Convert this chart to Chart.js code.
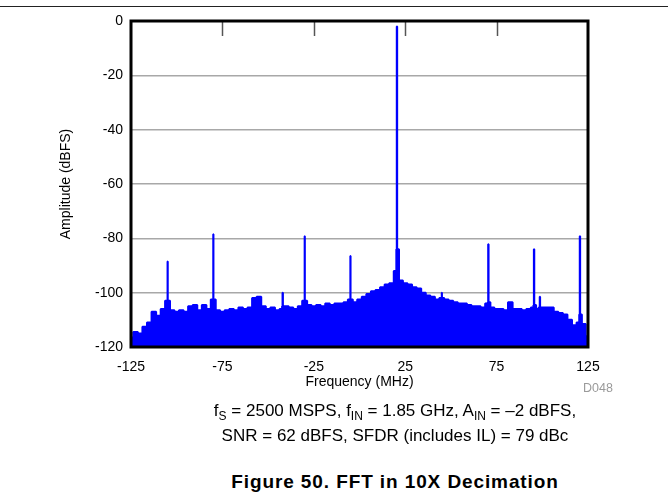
<!DOCTYPE html>
<html>
<head>
<meta charset="utf-8">
<script src="https://cdn.jsdelivr.net/npm/chart.js@4.4.1/dist/chart.umd.min.js"></script>
<style>
  body { margin: 0; width: 668px; height: 498px; background: #fff; position: relative; overflow: hidden;
         font-family: "Liberation Sans", Arial, sans-serif; color: #000; }
  .rule { position: absolute; left: 0; top: 6px; width: 668px; height: 0; border-top: 1.5px solid #222; }
  .wrap { position: absolute; left: 0; top: 0; width: 668px; height: 395px; }
  .code { position: absolute; left: 583px; top: 381px; font-size: 12.5px; color: #9a9a9a; }
  .cond { position: absolute; left: 395px; top: 398px; transform: translateX(-50%); white-space: nowrap;
          font-size: 17px; line-height: 25px; text-align: center; }
  .cond sub { font-size: 12px; vertical-align: -4px; line-height: 0; }
  .fig { position: absolute; left: 395px; top: 471px; transform: translateX(-50%); white-space: nowrap;
         font-size: 19px; letter-spacing: 0.9px; font-weight: bold; }
</style>
</head>
<body>
<div class="rule"></div>
<div class="wrap"><canvas id="fft"></canvas></div>
<div class="code">D048</div>
<div class="cond">f<sub>S</sub> = 2500 MSPS, f<sub>IN</sub> = 1.85 GHz, A<sub>IN</sub> = –2 dBFS,<br>SNR = 62 dBFS, SFDR (includes IL) = 79 dBc</div>
<div class="fig">Figure 50. FFT in 10X Decimation</div>
<script>
// noise floor, every 2.5 MHz
const floorFreqs = [
  -125, -122.5, -120, -117.5, -115, -112.5, -110, -107.5, -105, -102.5,
  -100, -97.5, -95, -92.5, -90, -87.5, -85, -82.5, -80, -77.5,
  -75, -72.5, -70, -67.5, -65, -62.5, -60, -57.5, -55, -52.5,
  -50, -47.5, -45, -42.5, -40, -37.5, -35, -32.5, -30, -27.5,
  -25, -22.5, -20, -17.5, -15, -12.5, -10, -7.5, -5, -2.5,
  0, 2.5, 5, 7.5, 10, 12.5, 15, 17.5, 20, 22.5,
  25, 27.5, 30, 32.5, 35, 37.5, 40, 42.5, 45, 47.5,
  50, 52.5, 55, 57.5, 60, 62.5, 65, 67.5, 70, 72.5,
  75, 77.5, 80, 82.5, 85, 87.5, 90, 92.5, 95, 97.5,
  100, 102.5, 105, 107.5, 110, 112.5, 115, 117.5, 120, 122.5, 125
];
const floorLevels = [
  -116.5, -114.5, -115, -112.5, -111, -107, -108.5, -106, -105, -106.5,
  -107, -106.5, -107, -105, -104.5, -106.5, -104.5, -106, -104, -106.5,
  -107, -106.5, -106, -106.5, -105.5, -106, -105.5, -102, -101.5, -105,
  -106, -105.5, -106.5, -106, -105, -105.5, -106, -105, -104, -104.5,
  -105, -104.5, -105, -104, -104.5, -104, -104, -103.5, -103, -103.5,
  -102.5, -101.5, -100.5, -99.5, -99, -98, -97, -96.5, -92, -95.5,
  -96.5, -97, -98, -98.5, -100, -101, -101.5, -102.5, -102, -102.5,
  -103, -103.5, -104, -104, -104.5, -105, -105, -105.5, -104, -105.5,
  -106, -106, -106.5, -103.5, -106, -106, -106.5, -106, -105.5, -106,
  -105.5, -105.5, -105.5, -107, -107.5, -108, -110, -112, -111, -111.5, -116
];

// spurs: centre frequency, peak level, level at the foot of the spur
const spurFreqs  = [-105, -80, -42, -30, -5, 20.5, 45, 70.5, 95.5, 98.7, 120.6];
const spurLevels = [-88.5, -78.5, -100, -79.2, -86.5, -2, -100, -82.2, -84, -101.5, -79.2];
const spurBase   = [-103, -102.5, -105, -103, -102.5, -84, -102, -103.5, -104.5, -105.5, -108];

const yTicks = [0, -20, -40, -60, -80, -100, -120];
const xTicks = [-125, -75, -25, 25, 75, 125];

const points = floorFreqs.map((f, i) => ({ x: f, y: floorLevels[i] }));
spurFreqs.forEach((f, i) => {
  points.push({ x: f - 0.2, y: spurBase[i] }, { x: f, y: spurLevels[i] }, { x: f + 0.2, y: spurBase[i] });
});
points.sort((a, b) => a.x - b.x);

const frame = {
  id: "frame",
  afterDatasetsDraw(chart) {
    const { ctx, chartArea: a, scales: { x } } = chart;
    ctx.save();
    ctx.strokeStyle = "#555";
    ctx.lineWidth = 1.5;
    xTicks.slice(1, -1).forEach(v => {
      const px = Math.round(x.getPixelForValue(v)) + 0.5;
      ctx.beginPath();
      ctx.moveTo(px, a.top);
      ctx.lineTo(px, a.top + 15);
      ctx.stroke();
    });
    ctx.strokeStyle = "#000";
    ctx.lineWidth = 3;
    ctx.strokeRect(a.left, a.top, a.right - a.left, a.bottom - a.top);
    ctx.restore();
  }
};

const font = { family: '"Liberation Sans", Arial, sans-serif', size: 14 };

new Chart(document.getElementById("fft"), {
  type: "line",
  data: {
    datasets: [{
      data: points,
      borderColor: "#0000ff",
      backgroundColor: "#0000ff",
      borderWidth: 2,
      borderJoinStyle: "bevel",
      stepped: "middle",
      fill: "start",
      pointRadius: 0
    }]
  },
  options: {
    responsive: true,
    maintainAspectRatio: false,
    animation: false,
    layout: { padding: { left: 0, right: 80, top: 21, bottom: 0 } },
    plugins: { legend: { display: false }, tooltip: { enabled: false } },
    scales: {
      x: {
        type: "linear",
        min: -125,
        max: 125,
        afterFit: s => { s.height = 48; },
        afterBuildTicks: s => { s.ticks = xTicks.map(v => ({ value: v })); },
        grid: { display: false, drawTicks: false },
        border: { display: false },
        ticks: { color: "#000", font, padding: 12, maxRotation: 0 },
        title: { display: true, text: "Frequency (MHz)", color: "#000",
                 font: { family: font.family, size: 14 }, padding: { bottom: 4 } }
      },
      y: {
        min: -120,
        max: 0,
        afterFit: s => { s.width = 131; },
        afterBuildTicks: s => { s.ticks = yTicks.map(v => ({ value: v })); },
        grid: { color: "#a8a8a8", lineWidth: 1.5, drawTicks: false },
        border: { display: false },
        ticks: { color: "#000", font, padding: 8 },
        title: { display: true, text: "Amplitude (dBFS)", color: "#000",
                 font: { family: font.family, size: 14 }, padding: { top: 58 } }
      }
    }
  },
  plugins: [frame]
});
</script>
</body>
</html>
